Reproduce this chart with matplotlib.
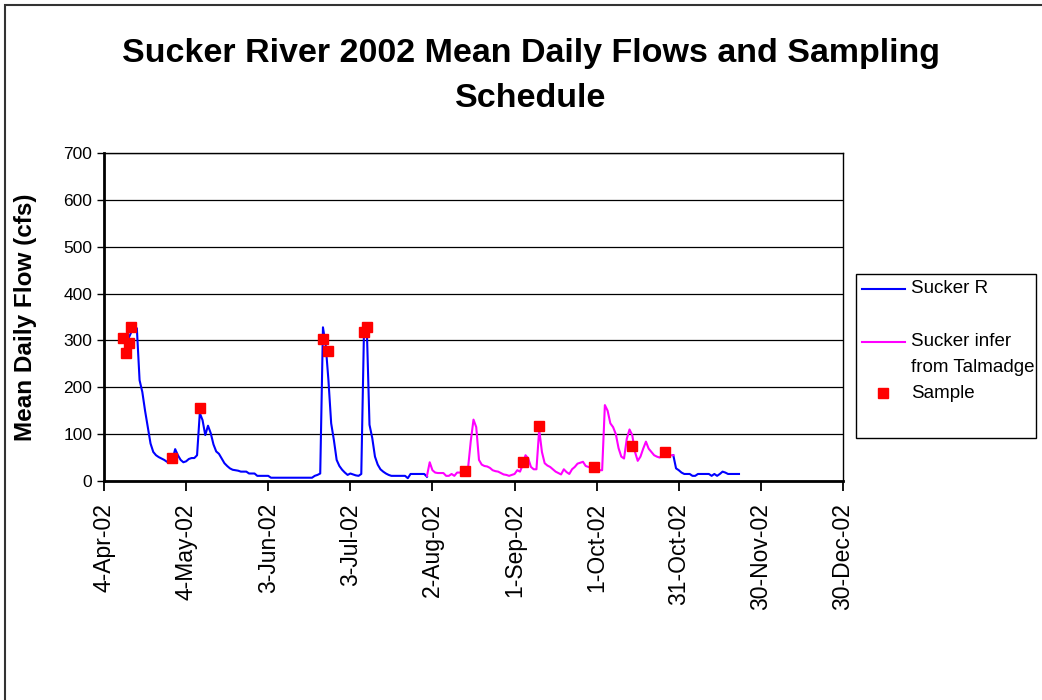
# Sucker River 2002 - vazões médias diárias e calendário de amostragem
import pandas as pd
import matplotlib
matplotlib.use("Agg")
import matplotlib.pyplot as plt
from matplotlib.lines import Line2D
from matplotlib.patches import Rectangle

plt.rcParams["font.family"] = ["Liberation Sans", "DejaVu Sans"]

# Sucker R gauge, daily flow (cfs), from 12-Apr-02
sucker_start_1 = "2002-04-12"
sucker_flow_1 = [
    290, 305, 318, 322, 326,
    215, 190, 150, 115, 80,
    62, 55, 51, 48, 45,
    41, 41, 45, 68, 55,
    45, 40, 42, 47, 49,
    49, 55, 145, 130, 98,
    118, 102, 78, 63, 58,
    48, 38, 32, 27, 24,
    23, 22, 20, 20, 20,
    16, 16, 16, 11, 11,
    11, 11, 11, 7, 7,
    7, 7, 7, 7, 7,
    7, 7, 7, 7, 7,
    7, 7, 7, 7, 11,
    13, 16, 328, 290, 215,
    123, 87, 45, 32, 24,
    18, 13, 16, 14, 12,
    11, 15, 325, 330, 120,
    92, 52, 35, 25, 20,
    16, 13, 11, 11, 11,
    11, 11, 11, 6, 15,
    15, 15, 15, 15, 15,
    9,
]

# Sucker R gauge again, from 29-Oct-02
sucker_start_2 = "2002-10-29"
sucker_flow_2 = [
    55, 27, 23, 18, 15,
    15, 15, 11, 11, 15,
    15, 15, 15, 15, 11,
    15, 11, 15, 20, 18,
    15, 15, 15, 15, 15,
]

# Sucker flow inferred from Talmadge, from 31-Jul-02
talmadge_start = "2002-07-31"
talmadge_flow = [
    11, 40, 23, 18, 17,
    17, 17, 11, 11, 15,
    11, 18, 18, 20, 22,
    27, 85, 131, 115, 45,
    35, 32, 31, 28, 23,
    21, 20, 17, 14, 13,
    11, 13, 15, 23, 20,
    35, 55, 48, 30, 25,
    25, 110, 62, 38, 33,
    30, 25, 20, 17, 14,
    25, 19, 15, 25, 30,
    37, 39, 41, 32, 30,
    28, 29, 27, 23, 23,
    162, 150, 123, 115, 100,
    70, 52, 48, 90, 110,
    98, 62, 43, 52, 69,
    84, 69, 62, 55, 52,
    50, 55, 57, 57, 55,
    55,
]

sample_dates = ["2002-04-11", "2002-04-12", "2002-04-13", "2002-04-14",
                "2002-04-29", "2002-05-09", "2002-06-23", "2002-06-25",
                "2002-07-08", "2002-07-09", "2002-08-14", "2002-09-04",
                "2002-09-10", "2002-09-30", "2002-10-14", "2002-10-26"]
sample_flow = [306, 274, 294, 329, 50, 155, 304, 277,
               317, 329, 21, 41, 118, 29, 75, 62]

tick_dates = pd.date_range("2002-04-04", "2002-12-30", freq="30D")

W, H = 1042, 700
fig = plt.figure(figsize=(W / 100, H / 100), dpi=100)
fig.patch.set_facecolor("white")

# moldura cinza do gráfico
fig.add_artist(Rectangle((5 / W, -0.1), 1.2, 1.1 - 5 / H, transform=fig.transFigure,
                         fill=False, edgecolor="#333333", lw=1.5))

ax = fig.add_axes([104 / W, 1 - 481 / H, (843 - 104) / W, (481 - 153) / H])

d1 = pd.date_range(sucker_start_1, periods=len(sucker_flow_1))
d2 = pd.date_range(sucker_start_2, periods=len(sucker_flow_2))
dt = pd.date_range(talmadge_start, periods=len(talmadge_flow))

ax.plot(d1, sucker_flow_1, color="#0000FF", lw=1.5, zorder=3)
ax.plot(d2, sucker_flow_2, color="#0000FF", lw=1.5, zorder=3)
ax.plot(dt, talmadge_flow, color="#FF00FF", lw=1.5, zorder=3)
ax.plot(pd.to_datetime(sample_dates), sample_flow, "s", color="#FF0000",
        markersize=7, zorder=4, linestyle="none")

ax.set_xlim(tick_dates[0], tick_dates[-1])
ax.set_ylim(0, 700)
ax.set_yticks(range(0, 701, 100))
ax.set_xticks(tick_dates)
ax.set_xticklabels([f"{d.day}-{d.strftime('%b-%y')}" for d in tick_dates],
                   rotation=90, fontsize=16.5)
ax.tick_params(axis="y", labelsize=12.5, direction="out", length=5, width=1)
ax.tick_params(axis="x", direction="out", length=7, width=1.3, pad=9)

ax.grid(axis="y", color="black", lw=0.9)
ax.set_axisbelow(True)
for side in ["left", "bottom"]:
    ax.spines[side].set_linewidth(2)
for side in ["top", "right"]:
    ax.spines[side].set_linewidth(1)

ax.set_ylabel("Mean Daily Flow (cfs)", fontsize=17.5, fontweight="bold")
ax.yaxis.set_label_coords((37 - 104) / (843 - 104), 0.5)

fig.text(531 / W, 1 - 76 / H,
         "Sucker River 2002 Mean Daily Flows and Sampling\nSchedule",
         ha="center", va="center", fontsize=24.5, fontweight="bold", linespacing=1.55)

# legenda no estilo Excel
fig.add_artist(Rectangle((856 / W, 1 - 438 / H), 180 / W, 164 / H,
                         transform=fig.transFigure, facecolor="white",
                         edgecolor="black", lw=1))
fig.add_artist(Line2D([862 / W, 905 / W], [1 - 289 / H] * 2, color="#0000FF",
                      lw=1.5, transform=fig.transFigure))
fig.add_artist(Line2D([862 / W, 905 / W], [1 - 342 / H] * 2, color="#FF00FF",
                      lw=1.5, transform=fig.transFigure))
fig.add_artist(Line2D([883 / W], [1 - 393 / H], marker="s", color="#FF0000",
                      markersize=7, linestyle="none", transform=fig.transFigure))
fig.text(911 / W, 1 - 289 / H, "Sucker R", va="center", fontsize=13.5)
fig.text(911 / W, 1 - 342 / H, "Sucker infer", va="center", fontsize=13.5)
fig.text(911 / W, 1 - 368 / H, "from Talmadge", va="center", fontsize=13.5)
fig.text(911 / W, 1 - 393 / H, "Sample", va="center", fontsize=13.5)

fig.savefig("out.png", dpi=100)
